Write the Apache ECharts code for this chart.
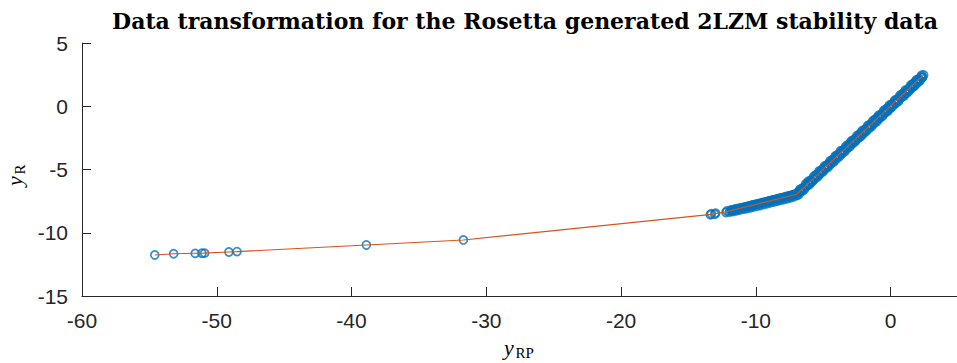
<!DOCTYPE html>
<html>
<head>
<meta charset="utf-8">
<script src="https://cdn.jsdelivr.net/npm/echarts@6/dist/echarts.min.js"></script>
<style>
html, body { margin: 0; padding: 0; background: #ffffff; overflow: hidden; }
/* the axis runs on a little past the right edge of the window */
#chart { width: 961px; height: 363px; }
</style>
</head>
<body>
<div id="chart"></div>
<script>
// Sparse far-left observations (y_RP, y_R)
const tailX = [-54.6, -53.2, -51.6, -51.1, -50.9, -49.1, -48.5, -38.9, -31.7];
const tailY = [-11.76, -11.66, -11.63, -11.62, -11.61, -11.52, -11.49, -10.97, -10.57];

// Compressed band below the knee
const midX = [-13.38, -13.30, -13.05, -12.98, -12.22, -12.15, -11.96, -11.82, -11.70, -11.58,
  -11.45, -11.33, -11.20, -11.08, -10.95, -10.83, -10.70, -10.58, -10.45, -10.31,
  -10.20, -10.06, -9.94, -9.81, -9.69, -9.55, -9.43, -9.30, -9.18, -9.05,
  -8.92, -8.80, -8.67, -8.55, -8.42, -8.30, -8.17, -8.05, -7.92, -7.80,
  -7.67, -7.55, -7.42, -7.30, -7.18, -7.05, -6.95];
const midY = [-8.58, -8.50, -8.54, -8.45, -8.40, -8.28, -8.36, -8.20, -8.32, -8.14,
  -8.26, -8.08, -8.20, -8.02, -8.14, -7.96, -8.10, -7.90, -8.04, -7.82,
  -7.97, -7.76, -7.91, -7.70, -7.85, -7.63, -7.78, -7.56, -7.71, -7.50,
  -7.64, -7.42, -7.58, -7.36, -7.51, -7.29, -7.44, -7.22, -7.38, -7.15,
  -7.31, -7.08, -7.24, -7.00, -7.16, -6.94, -7.05];
const midX2 = [-11.88, -11.76, -11.64, -11.51, -11.39, -11.26, -11.14, -11.01, -10.89, -10.76,
  -10.64, -10.51, -10.38, -10.25, -10.13, -10.00, -9.87, -9.75, -9.62, -9.49,
  -9.36, -9.24, -9.11, -8.98, -8.86, -8.73, -8.61, -8.48, -8.36, -8.23,
  -8.11, -7.98, -7.86, -7.73, -7.61, -7.48, -7.36, -7.24, -7.11];
const midY2 = [-8.24, -8.25, -8.19, -8.13, -8.15, -8.09, -8.08, -8.03, -8.01, -7.96,
  -7.95, -7.89, -7.88, -7.82, -7.81, -7.76, -7.74, -7.69, -7.67, -7.62,
  -7.60, -7.56, -7.53, -7.49, -7.47, -7.42, -7.40, -7.35, -7.33, -7.29,
  -7.27, -7.22, -7.20, -7.15, -7.13, -7.08, -7.06, -7.01, -6.99];

// Dense band above the knee
const upX = [-6.90, -6.81, -6.72, -6.60, -6.52, -6.41, -6.30, -6.22, -6.11, -6.02,
  -5.90, -5.81, -5.70, -5.62, -5.51, -5.40, -5.31, -5.22, -5.10, -5.01,
  -4.90, -4.82, -4.70, -4.61, -4.50, -4.41, -4.31, -4.20, -4.11, -4.00,
  -3.91, -3.80, -3.71, -3.60, -3.52, -3.40, -3.31, -3.21, -3.10, -3.01,
  -2.90, -2.81, -2.70, -2.62, -2.50, -2.41, -2.30, -2.21, -2.10, -2.01,
  -1.90, -1.81, -1.70, -1.61, -1.50, -1.41, -1.30, -1.21, -1.10, -1.01,
  -0.90, -0.81, -0.70, -0.61, -0.50, -0.41, -0.30, -0.21, -0.10, -0.01,
  0.10, 0.19, 0.30, 0.39, 0.50, 0.59, 0.70, 0.79, 0.90, 0.99,
  1.10, 1.19, 1.30, 1.39, 1.50, 1.59, 1.70, 1.79, 1.90, 1.99,
  2.10, 2.19, 2.30, 2.38, 2.45];
const upY = [-6.80, -6.98, -6.55, -6.75, -6.47, -6.60, -6.12, -6.30, -5.93, -6.20,
  -5.85, -5.98, -5.52, -5.75, -5.40, -5.58, -5.12, -5.35, -5.02, -5.19,
  -4.72, -4.95, -4.62, -4.80, -4.32, -4.52, -4.20, -4.39, -3.93, -4.16,
  -3.82, -3.98, -3.52, -3.76, -3.45, -3.59, -3.13, -3.33, -2.98, -3.19,
  -2.72, -2.95, -2.62, -2.80, -2.32, -2.53, -2.18, -2.40, -1.92, -2.17,
  -1.82, -1.99, -1.52, -1.76, -1.44, -1.60, -1.12, -1.34, -0.98, -1.20,
  -0.72, -0.96, -0.62, -0.80, -0.32, -0.53, -0.18, -0.40, 0.08, -0.17,
  0.18, 0.01, 0.48, 0.24, 0.56, 0.40, 0.88, 0.66, 1.02, 0.80,
  1.28, 1.03, 1.36, 1.20, 1.68, 1.44, 1.82, 1.60, 2.08, 1.83,
  2.16, 2.02, 2.45, 2.30, 2.48];
const upX2 = [-6.86, -6.77, -6.66, -6.56, -6.46, -6.35, -6.26, -6.16, -6.06, -5.96,
  -5.86, -5.75, -5.66, -5.56, -5.46, -5.35, -5.26, -5.16, -5.05, -4.96,
  -4.86, -4.76, -4.66, -4.55, -4.46, -4.36, -4.25, -4.16, -4.05, -3.96,
  -3.86, -3.75, -3.66, -3.56, -3.46, -3.35, -3.26, -3.16, -3.05, -2.96,
  -2.86, -2.76, -2.66, -2.55, -2.46, -2.36, -2.25, -2.16, -2.06, -1.96,
  -1.86, -1.75, -1.66, -1.56, -1.46, -1.35, -1.26, -1.16, -1.05, -0.96,
  -0.86, -0.76, -0.66, -0.55, -0.46, -0.36, -0.25, -0.16, -0.05, 0.05,
  0.14, 0.25, 0.34, 0.45, 0.55, 0.64, 0.75, 0.84, 0.95, 1.05,
  1.14, 1.25, 1.34, 1.45, 1.55, 1.64, 1.75, 1.84, 1.95, 2.05,
  2.14, 2.25, 2.34];
const upY2 = [-6.88, -6.70, -6.74, -6.50, -6.55, -6.30, -6.36, -6.10, -6.14, -5.90,
  -5.95, -5.68, -5.76, -5.50, -5.56, -5.28, -5.35, -5.10, -5.14, -4.88,
  -4.95, -4.69, -4.76, -4.48, -4.56, -4.28, -4.34, -4.09, -4.15, -3.88,
  -3.96, -3.67, -3.75, -3.49, -3.55, -3.27, -3.36, -3.08, -3.15, -2.88,
  -2.95, -2.68, -2.76, -2.48, -2.55, -2.28, -2.35, -2.08, -2.15, -1.88,
  -1.96, -1.67, -1.75, -1.48, -1.56, -1.27, -1.36, -1.08, -1.15, -0.88,
  -0.95, -0.68, -0.76, -0.47, -0.56, -0.28, -0.35, -0.08, -0.15, 0.13,
  0.05, 0.33, 0.25, 0.53, 0.46, 0.72, 0.66, 0.92, 0.86, 1.13,
  1.05, 1.33, 1.25, 1.53, 1.46, 1.72, 1.66, 1.92, 1.86, 2.13,
  2.05, 2.33, 2.26];

// Transformation curve knots
const curveX = [-54.6, -53.2, -51.6, -51.0, -49.1, -48.5, -38.9, -31.7, -13.3, -12.2, -6.95, 2.45];
const curveY = [-11.76, -11.66, -11.62, -11.61, -11.52, -11.49, -10.97, -10.57, -8.55, -8.34, -6.95, 2.48];

// Tick labels
const xTickLabels = [-60, -50, -40, -30, -20, -10, 0];
const yTickLabels = [5, 0, -5, -10, -15];

const titleText = 'Data transformation for the Rosetta generated 2LZM stability data';

function zip(xs, ys) {
  const n = Math.min(xs.length, ys.length);
  const out = [];
  for (let i = 0; i < n; i++) out.push([xs[i], ys[i]]);
  return out;
}

const scatterData = zip(tailX, tailY).concat(
  zip(midX, midY), zip(midX2, midY2), zip(upX, upY), zip(upX2, upY2));
const curveData = zip(curveX, curveY);

const axisColor = '#262626';
const tickFont = 'Liberation Sans';
const mathFont = '"Liberation Serif"';

// italic variable with an upright subscript; baseline of the variable at local y = 0
function mathLabel(x, y, rotation, sub) {
  return {
    type: 'group',
    x: x,
    y: y,
    rotation: rotation,
    children: [
      { type: 'text', x: 0, y: -7.5, style: { text: 'y', font: 'italic 22px ' + mathFont, fill: '#000000', align: 'left', verticalAlign: 'middle' } },
      { type: 'text', x: 11.5, y: -2, style: { text: sub, font: '15px ' + mathFont, fill: '#000000', align: 'left', verticalAlign: 'middle' } }
    ]
  };
}

const chart = echarts.init(document.getElementById('chart'), null, { renderer: 'svg' });

chart.setOption({
  animation: false,
  backgroundColor: '#ffffff',
  grid: { left: 82, top: 43, right: 0, bottom: 67, containLabel: false },
  xAxis: {
    type: 'value',
    min: -60,
    max: 5,
    interval: 10,
    axisLine: { show: true, onZero: false, lineStyle: { color: axisColor, width: 1 } },
    axisTick: { show: true, inside: true, length: 9, lineStyle: { color: axisColor, width: 1 } },
    splitLine: { show: false },
    axisLabel: {
      margin: 14,
      fontFamily: tickFont,
      fontSize: 21,
      color: axisColor,
      formatter: v => (xTickLabels.indexOf(v) >= 0 ? String(v) : '')
    }
  },
  yAxis: {
    type: 'value',
    min: -15,
    max: 5,
    interval: 5,
    axisLine: { show: true, onZero: false, lineStyle: { color: axisColor, width: 1 } },
    axisTick: { show: true, inside: true, length: 9, lineStyle: { color: axisColor, width: 1 } },
    splitLine: { show: false },
    axisLabel: {
      margin: 14,
      fontFamily: tickFont,
      fontSize: 21,
      color: axisColor,
      formatter: v => (yTickLabels.indexOf(v) >= 0 ? String(v) : '')
    }
  },
  series: [
    {
      type: 'scatter',
      data: scatterData,
      symbol: 'circle',
      symbolSize: 8,
      itemStyle: { color: 'rgba(0,0,0,0)', borderColor: '#0072BD', borderWidth: 1.7 },
      emphasis: { disabled: true },
      z: 2
    },
    {
      type: 'line',
      data: curveData,
      showSymbol: false,
      symbol: 'none',
      lineStyle: { color: '#D95319', width: 1.1 },
      emphasis: { disabled: true },
      z: 3
    }
  ],
  graphic: [
    {
      type: 'text',
      x: 525,
      y: 21,
      style: {
        text: titleText,
        font: 'bold 22px "DejaVu Serif"',
        fill: '#000000',
        align: 'center',
        verticalAlign: 'middle'
      }
    },
    mathLabel(504, 355, 0, 'RP'),
    mathLabel(22, 186, Math.PI / 2, 'R')
  ]
});
</script>
</body>
</html>
